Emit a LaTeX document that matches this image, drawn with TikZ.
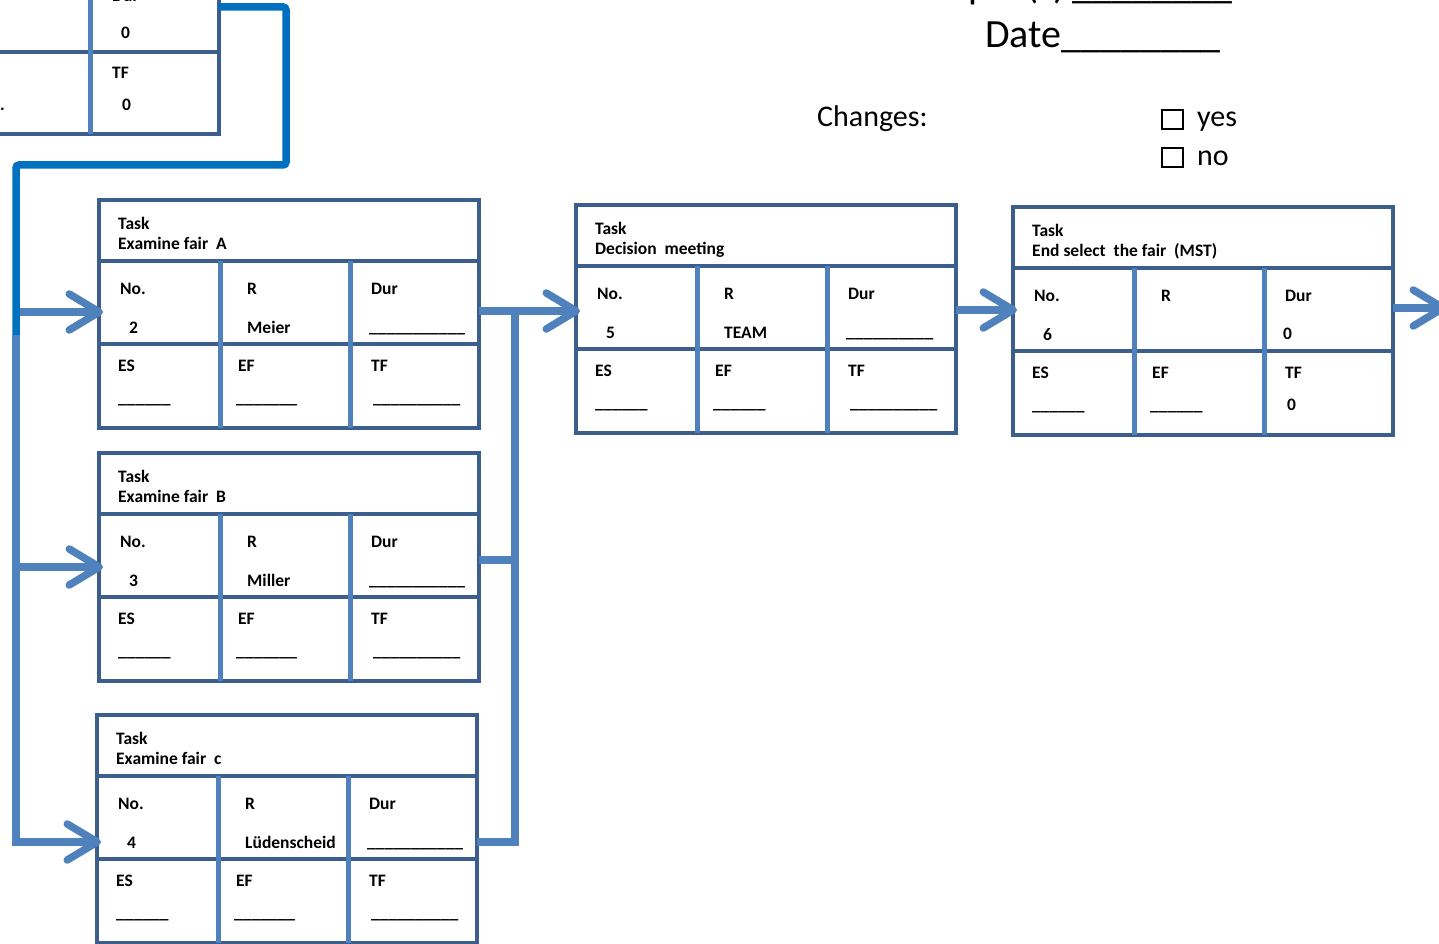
\documentclass[tikz,border=0pt]{standalone}
\usepackage{fontspec}
\setmainfont{Carlito}
\usetikzlibrary{arrows.meta,calc}
\definecolor{boxc}{HTML}{3B5E8C}
\definecolor{divc}{HTML}{4F81BD}
\definecolor{arrc}{HTML}{4F81BD}
\definecolor{brightc}{HTML}{0070C0}
\tikzset{
  taskbox/.style={draw=boxc, line width=4pt, rectangle, inner sep=0pt, outer sep=0pt,
    minimum width=380pt, minimum height=228pt},
  hdiv/.style={draw=boxc, line width=4pt},
  vdiv/.style={draw=divc, line width=5pt},
  lbl/.style={anchor=base west, inner sep=0pt, font=\bfseries\fontsize{17.5}{20}\selectfont},
  conn/.style={draw=arrc, line width=7.5pt},
  arr/.style={conn, -{Straight Barb[round, length=30pt, width=36pt]}, shorten >=-4pt},
  bright/.style={draw=brightc, line width=7.5pt, rounded corners=3pt},
  big/.style={anchor=base west, inner sep=0pt, font=\fontsize{30}{36}\selectfont},
  chk/.style={draw=black, line width=2.2pt}
}
\newcommand\tbox[9]{%
  \node[taskbox, anchor=north west] (#1) at #2 {};
  \draw[hdiv] ($(#1.north west)+(0,61)$) -- ($(#1.north east)+(0,61)$);
  \draw[hdiv] ($(#1.north west)+(0,144)$) -- ($(#1.north east)+(0,144)$);
  \draw[vdiv] ($(#1.north west)+(121,61)$) -- ($(#1.south west)+(121,0)$);
  \draw[vdiv] ($(#1.north west)+(251,61)$) -- ($(#1.south west)+(251,0)$);
  \node[lbl] (#1-t) at ($(#1.north west)+(19,29)$) {Task};
  \node[lbl] (#1-n) at ($(#1.north west)+(19,49)$) {#3};
  \node[lbl] (#1-no) at ($(#1.north west)+(21,94)$) {No.};
  \node[lbl] (#1-nov) at ($(#1.north west)+(30,133)$) {#4};
  \node[lbl] (#1-r) at ($(#1.north west)+(148,94)$) {R};
  \node[lbl] (#1-rv) at ($(#1.north west)+(148,133)$) {#5};
  \node[lbl] (#1-d) at ($(#1.north west)+(272,94)$) {Dur};
  \node[lbl] (#1-dv) at ($(#1.north west)+(270,132)$) {#6};
  \node[lbl] (#1-es) at ($(#1.north west)+(19,171)$) {ES};
  \node[lbl] (#1-esv) at ($(#1.north west)+(19,203)$) {#7};
  \node[lbl] (#1-ef) at ($(#1.north west)+(139,171)$) {EF};
  \node[lbl] (#1-efv) at ($(#1.north west)+(137,203)$) {#8};
  \node[lbl] (#1-tf) at ($(#1.north west)+(272,171)$) {TF};
  \node[lbl] (#1-tfv) at ($(#1.north west)+(274,203)$) {#9};
}
\begin{document}
\begin{tikzpicture}[x=1pt,y=-1pt]
\useasboundingbox[fill=white] (0,0) rectangle (1439,944);

% partial box at top left
\node[taskbox, anchor=south east, minimum width=420pt, minimum height=300pt] (P) at (219,134) {};
\draw[hdiv] (P.west |- 0,52) -- (P.east |- 0,52);
\draw[vdiv] (P.north -| 90,0) -- (P.south -| 90,0);
\node[lbl] (P-d) at (112,2) {Dur};
\node[lbl] (P-dv) at (121,39) {0};
\node[lbl] (P-tf) at (112,79) {TF};
\node[lbl] (P-tfv) at (122,111) {0};
\node[lbl] (P-x) at (0,111) {.};

% header texts
\node[anchor=base east, inner sep=0pt, font=\fontsize{40}{48}\selectfont] (grp) at (990,-1) {Group};
\node[anchor=base west, inner sep=0pt, font=\fontsize{40}{48}\selectfont] (grpv) at (1026,-1) {(s)\,\_\_\_\_\_\_\_\_};
\node[anchor=base west, inner sep=0pt, font=\fontsize{40}{48}\selectfont] (date) at (985,48) {Date\_\_\_\_\_\_\_\_};
\node[big] (chg) at (817,127) {Changes:};
\node[big] (yes) at (1197,127) {yes};
\node[big] (no) at (1197,166) {no};
\draw[chk] (1162,110) rectangle (1183,129);
\draw[chk] (1162,148) rectangle (1183,167);

% task boxes
\tbox{A}{(99,200)}{Examine fair~ A}{2}{Meier}{\_\_\_\_\_\_\_\_\_\_\_}{\_\_\_\_\_\_}{\_\_\_\_\_\_\_}{\_\_\_\_\_\_\_\_\_\_}
\tbox{B}{(99,453)}{Examine fair~ B}{3}{Miller}{\_\_\_\_\_\_\_\_\_\_\_}{\_\_\_\_\_\_}{\_\_\_\_\_\_\_}{\_\_\_\_\_\_\_\_\_\_}
\tbox{C}{(97,715)}{Examine fair~ c}{4}{Lüdenscheid}{\_\_\_\_\_\_\_\_\_\_\_}{\_\_\_\_\_\_}{\_\_\_\_\_\_\_}{\_\_\_\_\_\_\_\_\_\_}
\tbox{D}{(576,205)}{Decision~ meeting}{5}{TEAM}{\_\_\_\_\_\_\_\_\_\_}{\_\_\_\_\_\_}{\_\_\_\_\_\_}{\_\_\_\_\_\_\_\_\_\_}
\tbox{E}{(1013,207)}{End select~ the fair~ (MST)}{6}{}{0}{\_\_\_\_\_\_}{\_\_\_\_\_\_}{0}

% connector from the top box
\coordinate (K1) at (286,7);
\coordinate (K2) at (286,165);
\coordinate (K3) at (16,165);
\coordinate (K4) at (16,335);
\draw[bright] (P.east |- K1) -- (K1) -- (K2) -- (K3) -- (K4);

% trunk on the left
\coordinate (TA) at (16,312);
\coordinate (TB) at (16,567);
\coordinate (TC) at (16,842);
\draw[conn] (K4) -- ([yshift=3.75pt]TC);
\draw[arr] ([xshift=3.75pt]TA) -- (TA -| A.west);
\draw[arr] (TB) -- (TB -| B.west);
\draw[arr] ([xshift=-3.75pt]TC) -- (TC -| C.west);

% merge on the right
\coordinate (RA) at (515,311);
\coordinate (RB) at (515,560);
\coordinate (RC) at (515,842);
\draw[conn] (RA -| A.east) -- (RA);
\draw[conn] (RB -| B.east) -- (RB);
\draw[conn] (RC -| C.east) -- ([xshift=3.75pt]RC);
\draw[conn] ([yshift=-3.75pt]RC) -- (RA);
\draw[arr] (RA) -- (RA -| D.west);

% D -> E -> out
\coordinate (DE) at (985,310);
\draw[arr] (DE -| D.east) -- (DE -| E.west);
\coordinate (Out) at (1443,308);
\draw[arr] (Out -| E.east) -- (Out);
\end{tikzpicture}
\end{document}
